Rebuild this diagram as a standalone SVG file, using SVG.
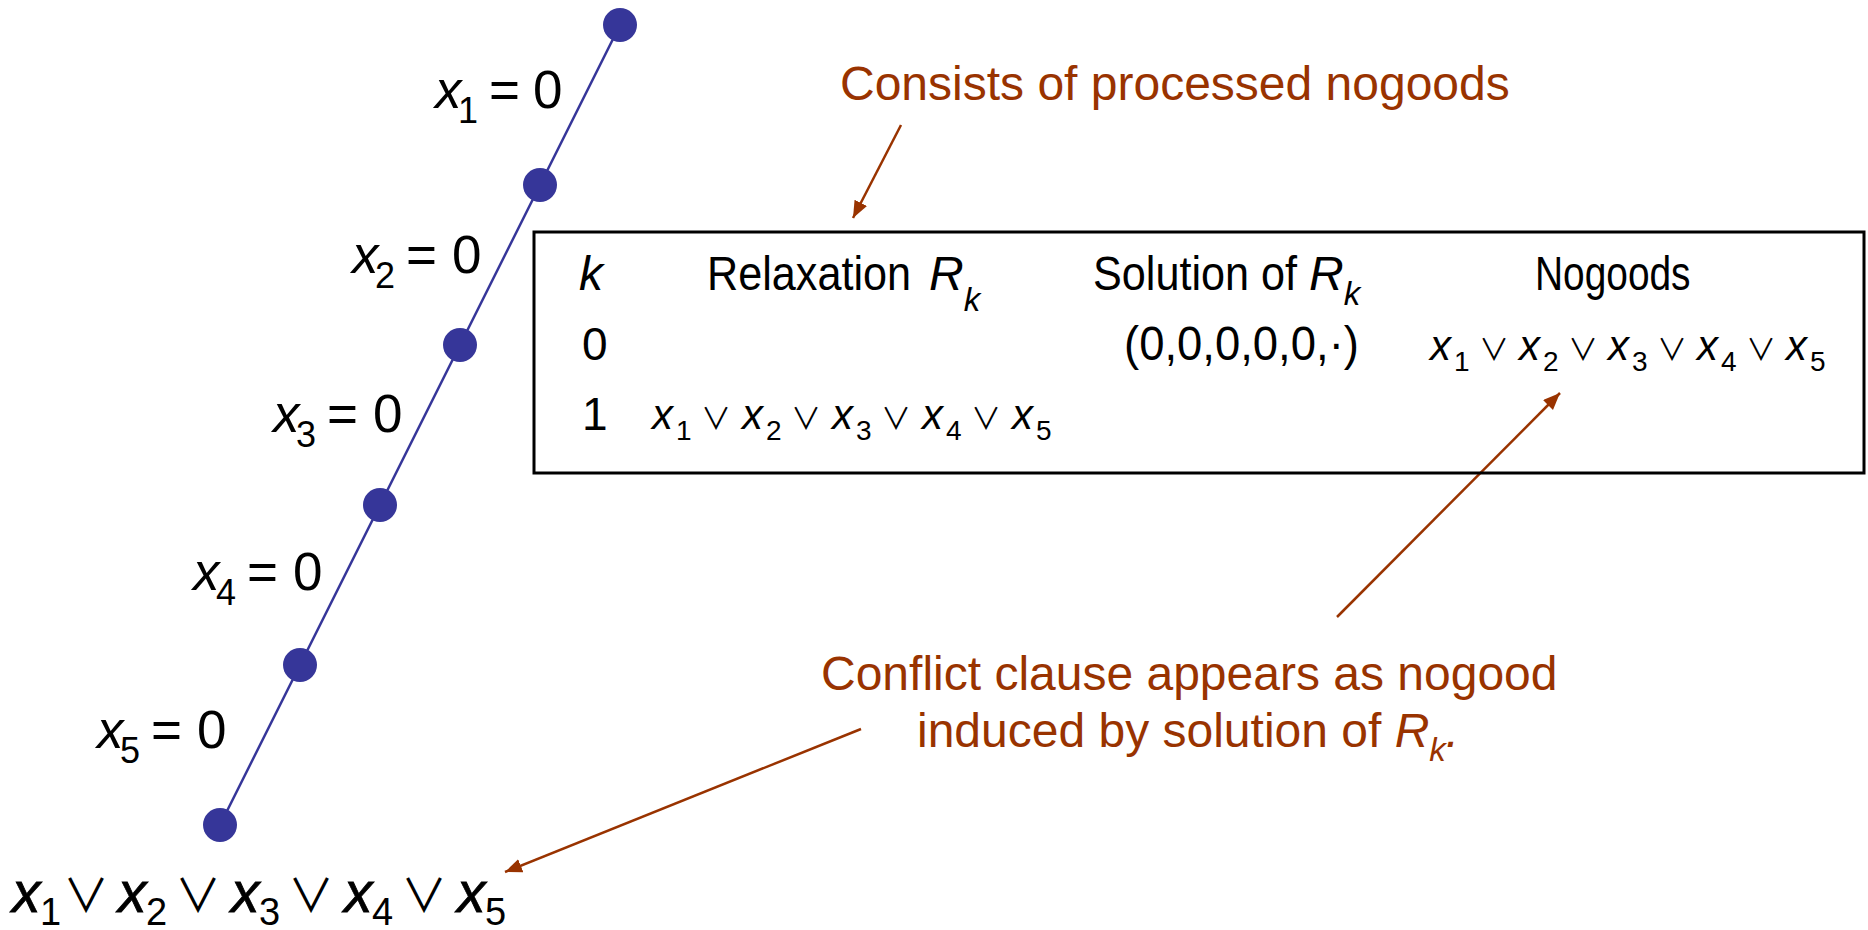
<svg xmlns="http://www.w3.org/2000/svg" width="1868" height="930" viewBox="0 0 1868 930">
<style>
text{font-family:"Liberation Sans",Arial,sans-serif;fill:#000}
.it{font-style:italic}
.lbl{font-size:53px}
.lsub{font-size:36px}
.hdr{font-size:48px}
.hsub{font-size:33px;font-style:italic}
.row{font-size:46px}
.fx{font-size:42px;font-style:italic}
.fs{font-size:28px}
.or{font-family:"Noto Sans CJK JP","DejaVu Sans",sans-serif;font-size:30px}
.bx{font-size:57px;font-style:italic;stroke:#000;stroke-width:0.8}
.bs{font-size:38px}
.bor{font-family:"Noto Sans CJK JP","DejaVu Sans",sans-serif;font-size:46px}
.note{font-size:48px;fill:#993300}
.node{fill:#363699}
.tree{stroke:#363699;stroke-width:2.5;fill:none}
.arr{stroke:#993300;stroke-width:2.5;fill:none;marker-end:url(#ah)}
</style>
<defs>
<marker id="ah" markerUnits="userSpaceOnUse" markerWidth="20" markerHeight="16" refX="17" refY="7" orient="auto">
<path d="M0,0 L17,7 L0,14 Z" fill="#993300"/>
</marker>
</defs>
<rect x="0" y="0" width="1868" height="930" fill="#fff"/>
<g id="connectors">
<line class="tree" x1="620" y1="25" x2="220" y2="825"/>
<line class="arr" x1="901" y1="125" x2="853" y2="218"/>
<line class="arr" x1="1337" y1="617" x2="1560" y2="393"/>
<line class="arr" x1="861" y1="729" x2="505" y2="872"/>
</g>
<g id="n0"><circle class="node" cx="620" cy="25" r="17"/></g>
<g id="n1"><circle class="node" cx="540" cy="185" r="17"/></g>
<g id="n2"><circle class="node" cx="460" cy="345" r="17"/></g>
<g id="n3"><circle class="node" cx="380" cy="505" r="17"/></g>
<g id="n4"><circle class="node" cx="300" cy="665" r="17"/></g>
<g id="n5"><circle class="node" cx="220" cy="825" r="17"/></g>
<g id="label-x1"><text class="lbl" y="108"><tspan class="it" x="435">x</tspan><tspan class="lsub" x="458" dy="15">1</tspan><tspan x="489" dy="-15">=</tspan><tspan x="533">0</tspan></text></g>
<g id="label-x2"><text class="lbl" y="273"><tspan class="it" x="352">x</tspan><tspan class="lsub" x="375" dy="15">2</tspan><tspan x="406" dy="-15">=</tspan><tspan x="452">0</tspan></text></g>
<g id="label-x3"><text class="lbl" y="432"><tspan class="it" x="273">x</tspan><tspan class="lsub" x="296" dy="15">3</tspan><tspan x="327" dy="-15">=</tspan><tspan x="373">0</tspan></text></g>
<g id="label-x4"><text class="lbl" y="590"><tspan class="it" x="193">x</tspan><tspan class="lsub" x="216" dy="15">4</tspan><tspan x="247" dy="-15">=</tspan><tspan x="293">0</tspan></text></g>
<g id="label-x5"><text class="lbl" y="748"><tspan class="it" x="97">x</tspan><tspan class="lsub" x="120" dy="15">5</tspan><tspan x="151" dy="-15">=</tspan><tspan x="197">0</tspan></text></g>
<g id="table">
<rect x="534" y="232" width="1330" height="241" fill="none" stroke="#000" stroke-width="3"/>
<text class="hdr it" x="579" y="290">k</text>
<text class="hdr" transform="translate(707,290) scale(0.9,1)">Relaxation</text>
<text class="hdr" y="290"><tspan class="it" x="929">R</tspan><tspan class="hsub" dy="21">k</tspan></text>
<text class="hdr" transform="translate(1093,290) scale(0.9,1)">Solution of</text>
<text class="hdr" y="290"><tspan class="it" x="1309">R</tspan><tspan class="hsub" dy="15">k</tspan></text>
<text class="hdr" transform="translate(1535,290) scale(0.81,1)">Nogoods</text>
<text class="row" x="582" y="360">0</text>
<text class="row" x="582" y="430">1</text>
<text class="hdr" transform="translate(1124,360) scale(0.947,1)">(0,0,0,0,0,·)</text>
<g id="f-row1">
<text y="429"><tspan class="fx" x="652">x</tspan><tspan class="fs" x="676" dy="11">1</tspan><tspan class="fx" x="742" dy="-11">x</tspan><tspan class="fs" x="766" dy="11">2</tspan><tspan class="fx" x="832" dy="-11">x</tspan><tspan class="fs" x="856" dy="11">3</tspan><tspan class="fx" x="922" dy="-11">x</tspan><tspan class="fs" x="946" dy="11">4</tspan><tspan class="fx" x="1012" dy="-11">x</tspan><tspan class="fs" x="1036" dy="11">5</tspan></text>
<text class="or" y="429" text-anchor="middle"><tspan x="716">∨</tspan><tspan x="806">∨</tspan><tspan x="896">∨</tspan><tspan x="986">∨</tspan></text>
</g>
<g id="f-row0">
<text y="360"><tspan class="fx" x="1430">x</tspan><tspan class="fs" x="1454" dy="11">1</tspan><tspan class="fx" x="1519" dy="-11">x</tspan><tspan class="fs" x="1543" dy="11">2</tspan><tspan class="fx" x="1608" dy="-11">x</tspan><tspan class="fs" x="1632" dy="11">3</tspan><tspan class="fx" x="1697" dy="-11">x</tspan><tspan class="fs" x="1721" dy="11">4</tspan><tspan class="fx" x="1786" dy="-11">x</tspan><tspan class="fs" x="1810" dy="11">5</tspan></text>
<text class="or" y="360" text-anchor="middle"><tspan x="1494">∨</tspan><tspan x="1583">∨</tspan><tspan x="1672">∨</tspan><tspan x="1761">∨</tspan></text>
</g>
</g>
<g id="note-consists"><text class="note" x="840" y="100">Consists of processed nogoods</text></g>
<g id="note-conflict">
<text class="note" x="821" y="690">Conflict clause appears as nogood</text>
<text class="note" x="917" y="747">induced by solution of <tspan class="it">R</tspan><tspan class="it" font-size="33" dy="14">k</tspan><tspan class="it" dy="-14">.</tspan></text>
</g>
<g id="conflict-clause">
<text y="912"><tspan class="bx" x="12">x</tspan><tspan class="bs" x="40" dy="13">1</tspan><tspan class="bx" x="118" dy="-13">x</tspan><tspan class="bs" x="146" dy="13">2</tspan><tspan class="bx" x="231" dy="-13">x</tspan><tspan class="bs" x="259" dy="13">3</tspan><tspan class="bx" x="344" dy="-13">x</tspan><tspan class="bs" x="372" dy="13">4</tspan><tspan class="bx" x="457" dy="-13">x</tspan><tspan class="bs" x="485" dy="13">5</tspan></text>
<text class="bor" y="912" text-anchor="middle"><tspan x="86">∨</tspan><tspan x="198">∨</tspan><tspan x="311">∨</tspan><tspan x="424">∨</tspan></text>
</g>
</svg>
